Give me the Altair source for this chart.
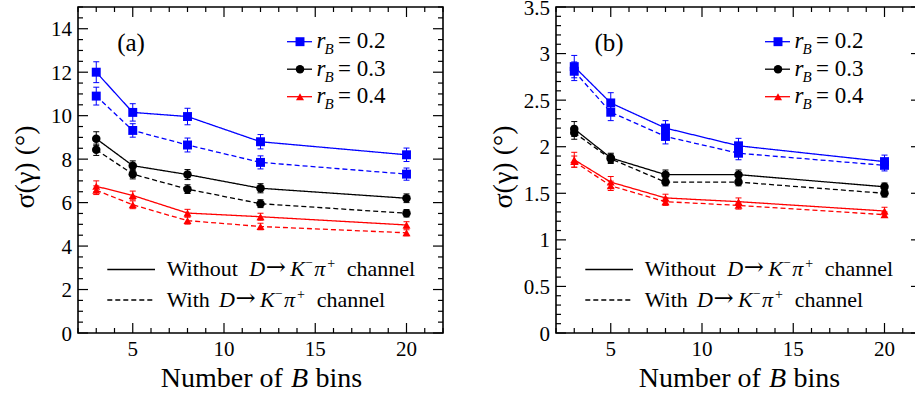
import altair as alt
import pandas as pd

# ---------------- data ----------------
NBINS = [3, 5, 8, 12, 20]
RB = ["0.2", "0.3", "0.4"]

# panel (a)
A_02_WITHOUT = [12.00, 10.15, 9.96, 8.80, 8.20]
A_02_WITH = [10.90, 9.32, 8.65, 7.85, 7.31]
A_03_WITHOUT = [8.94, 7.70, 7.29, 6.66, 6.20]
A_03_WITH = [8.43, 7.31, 6.62, 5.95, 5.51]
A_04_WITHOUT = [6.75, 6.33, 5.52, 5.35, 4.97]
A_04_WITH = [6.57, 5.90, 5.17, 4.90, 4.61]
A_02_WITHOUT_ERR = [0.48, 0.40, 0.38, 0.33, 0.31]
A_02_WITH_ERR = [0.41, 0.31, 0.32, 0.30, 0.28]
A_03_WITHOUT_ERR = [0.32, 0.22, 0.23, 0.21, 0.20]
A_03_WITH_ERR = [0.26, 0.22, 0.20, 0.18, 0.17]
A_04_WITHOUT_ERR = [0.25, 0.20, 0.17, 0.16, 0.15]
A_04_WITH_ERR = [0.20, 0.18, 0.16, 0.15, 0.14]

# panel (b)
B_02_WITHOUT = [2.86, 2.47, 2.20, 2.01, 1.84]
B_02_WITH = [2.81, 2.37, 2.11, 1.93, 1.80]
B_03_WITHOUT = [2.19, 1.88, 1.70, 1.70, 1.57]
B_03_WITH = [2.15, 1.87, 1.62, 1.62, 1.50]
B_04_WITHOUT = [1.86, 1.62, 1.45, 1.41, 1.31]
B_04_WITH = [1.84, 1.58, 1.41, 1.37, 1.27]
B_02_WITHOUT_ERR = [0.12, 0.11, 0.08, 0.08, 0.07]
B_02_WITH_ERR = [0.10, 0.09, 0.08, 0.07, 0.06]
B_03_WITHOUT_ERR = [0.08, 0.05, 0.05, 0.05, 0.04]
B_03_WITH_ERR = [0.07, 0.05, 0.04, 0.04, 0.04]
B_04_WITHOUT_ERR = [0.08, 0.06, 0.04, 0.04, 0.04]
B_04_WITH_ERR = [0.06, 0.05, 0.04, 0.04, 0.03]

X_LABELS = [5, 10, 15, 20]
A_Y_LABELS = [0, 2, 4, 6, 8, 10, 12, 14]
B_Y_LABELS = [0, 0.5, 1, 1.5, 2, 2.5, 3, 3.5]

# ---------------- style / layout ----------------
FONT = "Liberation Serif"
PW, PH = 365, 326
OFF_B = 478
COLORS = ["#0000ff", "#000000", "#ff0000"]
SHAPES = ["square", "circle", "triangle-up"]
SIZES = [80, 64, 72]
ONE = pd.DataFrame({"a": [0]})


def build_df(series):
    rows = []
    for rb, kind, vals, errs in series:
        for n, v, e in zip(NBINS, vals, errs):
            rows.append(dict(nbins=n, sigma=v, lo=v - e, hi=v + e, rb=rb, kind=kind))
    return pd.DataFrame(rows)


DF_A = build_df([
    ("0.2", "without", A_02_WITHOUT, A_02_WITHOUT_ERR),
    ("0.2", "with", A_02_WITH, A_02_WITH_ERR),
    ("0.3", "without", A_03_WITHOUT, A_03_WITHOUT_ERR),
    ("0.3", "with", A_03_WITH, A_03_WITH_ERR),
    ("0.4", "without", A_04_WITHOUT, A_04_WITHOUT_ERR),
    ("0.4", "with", A_04_WITH, A_04_WITH_ERR),
])
DF_B = build_df([
    ("0.2", "without", B_02_WITHOUT, B_02_WITHOUT_ERR),
    ("0.2", "with", B_02_WITH, B_02_WITH_ERR),
    ("0.3", "without", B_03_WITHOUT, B_03_WITHOUT_ERR),
    ("0.3", "with", B_03_WITH, B_03_WITH_ERR),
    ("0.4", "without", B_04_WITHOUT, B_04_WITHOUT_ERR),
    ("0.4", "with", B_04_WITH, B_04_WITH_ERR),
])


def frange(a, b, step):
    out = []
    k = 0
    while a + k * step <= b + 1e-9:
        out.append(round(a + k * step, 6))
        k += 1
    return out


def fmt(v):
    return ("%g" % v)


def text(t, x, y, size=22, italic=False, align="left", baseline="alphabetic", angle=0, font=FONT, dy=0):
    kw = dict(text=t, font=font, fontSize=size, align=align, baseline=baseline, color="black")
    if italic:
        kw["fontStyle"] = "italic"
    if angle:
        kw["angle"] = angle
    if dy:
        kw["dy"] = dy
    return alt.Chart(ONE).mark_text(**kw).encode(x=alt.value(x), y=alt.value(y))


def channel_label(layers, x0, y, first, d_x, ch_x):
    """'Without/With D->K^- pi^+ channel' assembled from pieces."""
    layers.append(text(first, x0 + 88.7, y))
    layers.append(text("D", d_x, y, italic=True))
    layers.append(text("→", d_x + 16.5, y - 1, size=24, font="DejaVu Serif"))
    layers.append(text("K", d_x + 41, y, italic=True))
    layers.append(text("−", d_x + 56, y - 9, size=13))
    layers.append(text("π", d_x + 65, y, italic=True))
    layers.append(text("+", d_x + 78, y - 8, size=14))
    layers.append(text("channel", ch_x, y))


def panel(df, ydom, ylabels, ymajor_step, yminor_step, x0, tag):
    xs = alt.Scale(domain=[2, 22], range=[x0, x0 + PW], nice=False, zero=False)
    ys = alt.Scale(domain=ydom, range=[PH, 0], nice=False, zero=False)
    color = alt.Color("rb:N", scale=alt.Scale(domain=RB, range=COLORS), legend=None)
    shape = alt.Shape("rb:N", scale=alt.Scale(domain=RB, range=SHAPES), legend=None)
    size = alt.Size("rb:O", scale=alt.Scale(domain=RB, range=SIZES), legend=None)
    X = alt.X("nbins:Q", scale=xs, axis=None)
    base = alt.Chart(df)

    layers = []
    # frame
    layers.append(alt.Chart(ONE).mark_rect(fill="transparent", stroke="black", strokeWidth=1.6).encode(
        x=alt.value(x0), x2=alt.value(x0 + PW), y=alt.value(0), y2=alt.value(PH)))

    # inward ticks on all four sides
    ymaj = frange(ydom[0], ydom[1], ymajor_step)
    ymin = [v for v in frange(ydom[0], ydom[1], yminor_step) if v not in ymaj]
    xmaj = [5, 10, 15, 20]
    xmin = [v for v in range(2, 23) if v not in xmaj]
    for vals, ln in ((ymaj, 10), (ymin, 5)):
        d = pd.DataFrame({"v": vals})
        Y = alt.Y("v:Q", scale=ys, axis=None)
        layers.append(alt.Chart(d).mark_rule(color="black", strokeWidth=1.2).encode(
            y=Y, x=alt.value(x0), x2=alt.value(x0 + ln)))
        layers.append(alt.Chart(d).mark_rule(color="black", strokeWidth=1.2).encode(
            y=Y, x=alt.value(x0 + PW - ln), x2=alt.value(x0 + PW)))
    for vals, ln in ((xmaj, 10), (xmin, 5)):
        d = pd.DataFrame({"v": vals})
        XX = alt.X("v:Q", scale=xs, axis=None)
        layers.append(alt.Chart(d).mark_rule(color="black", strokeWidth=1.2).encode(
            x=XX, y=alt.value(PH), y2=alt.value(PH - ln)))
        layers.append(alt.Chart(d).mark_rule(color="black", strokeWidth=1.2).encode(
            x=XX, y=alt.value(0), y2=alt.value(ln)))

    # tick labels through the scales
    xl = pd.DataFrame({"v": X_LABELS, "lab": [fmt(v) for v in X_LABELS]})
    layers.append(alt.Chart(xl).mark_text(font=FONT, fontSize=21, align="center",
                                          baseline="alphabetic", color="black").encode(
        x=alt.X("v:Q", scale=xs, axis=None), y=alt.value(PH + 23), text="lab:N"))
    yl = pd.DataFrame({"v": ylabels, "lab": [fmt(v) for v in ylabels]})
    layers.append(alt.Chart(yl).mark_text(font=FONT, fontSize=21, align="right",
                                          baseline="alphabetic", dy=7.5, color="black").encode(
        y=alt.Y("v:Q", scale=ys, axis=None), x=alt.value(x0 - 6), text="lab:N"))

    # data lines
    layers.append(base.mark_line(strokeWidth=1.3).encode(
        x=X,
        y=alt.Y("sigma:Q", scale=ys, axis=None),
        color=color,
        strokeDash=alt.StrokeDash("kind:N", scale=alt.Scale(domain=["without", "with"], range=[[1, 0], [5, 3]]), legend=None),
        detail="rb:N",
    ))
    # error bars
    layers.append(base.mark_rule(strokeWidth=1).encode(
        x=X, y=alt.Y("lo:Q", scale=ys, axis=None), y2="hi:Q", color=color))
    for f in ("lo", "hi"):
        layers.append(base.mark_rule(strokeWidth=1, xOffset=-3, x2Offset=3).encode(
            x=X, x2="nbins:Q", y=alt.Y(f + ":Q", scale=ys, axis=None), color=color))
    # markers
    layers.append(base.mark_point(filled=True, opacity=1).encode(
        x=X, y=alt.Y("sigma:Q", scale=ys, axis=None), color=color, shape=shape, size=size))

    # marker legend
    leg = pd.DataFrame({"rb": RB, "ly": [34.7, 62.2, 89.7], "lab": ["= " + r for r in RB]})
    LY = alt.Y("ly:Q", scale=None)
    layers.append(alt.Chart(leg).mark_rule(strokeWidth=1.3).encode(
        x=alt.value(x0 + 209), x2=alt.value(x0 + 234), y=LY, color=color))
    layers.append(alt.Chart(leg).mark_point(filled=True, opacity=1).encode(
        x=alt.value(x0 + 222), y=LY, color=color, shape=shape,
        size=alt.Size("rb:O", scale=alt.Scale(domain=RB, range=[64, 56, 64]), legend=None)))
    layers.append(alt.Chart(leg).mark_text(text="r", font=FONT, fontStyle="italic", fontSize=23,
                                           align="left", baseline="alphabetic", dy=6.5, color="black").encode(
        x=alt.value(x0 + 238.5), y=LY))
    layers.append(alt.Chart(leg).mark_text(text="B", font=FONT, fontStyle="italic", fontSize=15,
                                           align="left", baseline="alphabetic", dy=12.5, color="black").encode(
        x=alt.value(x0 + 246.5), y=LY))
    layers.append(alt.Chart(leg).mark_text(font=FONT, fontSize=23, align="left",
                                           baseline="alphabetic", dy=6.5, color="black").encode(
        x=alt.value(x0 + 260), y=LY, text="lab:N"))

    # line-style legend
    layers.append(alt.Chart(ONE).mark_rule(color="black", strokeWidth=1.3).encode(
        x=alt.value(x0 + 29.3), x2=alt.value(x0 + 77), y=alt.value(262.5)))
    layers.append(alt.Chart(ONE).mark_rule(color="black", strokeWidth=1.3, strokeDash=[5, 3]).encode(
        x=alt.value(x0 + 29.3), x2=alt.value(x0 + 77), y=alt.value(293)))
    channel_label(layers, x0, 268.5, "Without", x0 + 171.3, x0 + 268.7)
    channel_label(layers, x0, 299.7, "With", x0 + 141, x0 + 238.7)

    # panel tag and axis titles
    layers.append(text(tag, x0 + 53, 36, size=25, align="center", baseline="middle"))
    layers.append(text("Number of", x0 + 82.7, 380, size=28))
    layers.append(text("B", x0 + 213, 380, size=28, italic=True))
    layers.append(text("bins", x0 + 237.5, 380, size=28))
    layers.append(text("σ(γ) (°)", x0 - 52, 160, size=28, align="center", baseline="middle", angle=270))

    return alt.layer(*layers)


panel_a = panel(DF_A, [0, 15], A_Y_LABELS, 2, 0.5, 0, "(a)")
panel_b = panel(DF_B, [0, 3.5], B_Y_LABELS, 0.5, 0.1, OFF_B, "(b)")

chart = (
    alt.layer(panel_a, panel_b)
    .resolve_scale(x="independent", y="independent")
    .properties(
        width=837,
        height=PH,
        autosize=alt.AutoSizeParams(type="none"),
        padding={"left": 78, "top": 7, "right": 0, "bottom": 68},
        background="white",
    )
    .configure_view(stroke="transparent")
)

chart.save("out.html", embed_options={"renderer": "svg", "actions": False})
